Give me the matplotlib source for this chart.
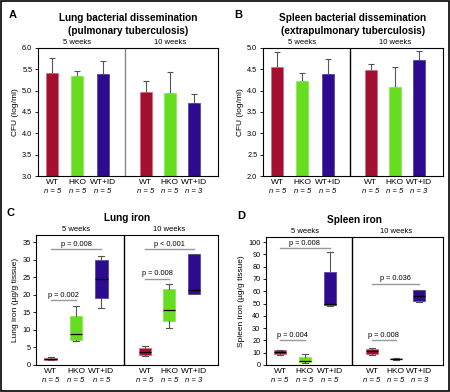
import matplotlib
matplotlib.use("Agg")
import matplotlib.pyplot as plt
import numpy as np

plt.rcParams['font.family'] = ['Liberation Sans', 'DejaVu Sans']

groups = ['WT', 'HKO', 'WT+ID', 'WT', 'HKO', 'WT+ID']
n_labels = ['n = 5', 'n = 5', 'n = 5', 'n = 5', 'n = 5', 'n = 3']
colors = ['#A3102F', '#66DD1E', '#2D0B8E'] * 2
edges = ['#D8707F', '#8CEB55', '#5A46B0'] * 2

# bar data (mean, length of upper error bar)
lung_cfu = [5.42, 5.35, 5.38, 4.97, 4.95, 4.72]
lung_cfu_err = [0.35, 0.11, 0.31, 0.25, 0.48, 0.19]
spleen_cfu = [4.55, 4.23, 4.38, 4.48, 4.08, 4.72]
spleen_cfu_err = [0.35, 0.17, 0.37, 0.15, 0.47, 0.20]

# box data: min, q1, median, q3, max
lung_iron = [(1.3, 1.5, 1.8, 2.1, 2.3), (6.8, 7.0, 8.8, 14.0, 16.9), (16.3, 19.0, 24.5, 29.8, 31.0),
             (2.5, 2.8, 3.7, 4.7, 5.5), (10.6, 12.4, 15.8, 21.6, 23.2), (20.3, 20.3, 21.5, 31.7, 31.7)]
spleen_iron = [(8, 9, 10.5, 12, 12.5), (1.5, 2.5, 3, 6.5, 9), (48, 49, 49.5, 76, 92),
               (8, 9, 11, 13, 13.5), (4, 4.5, 5, 5.5, 6), (51, 52, 56, 61, 61)]
# p-value brackets: (i, j, y, text)
lung_p = [(0, 1, 18.5, 'p = 0.002'), (0, 2, 33.0, 'p = 0.008'),
          (3, 4, 24.5, 'p = 0.008'), (3, 5, 33.0, 'p < 0.001')]
spleen_p = [(0, 1, 20, 'p = 0.004'), (0, 2, 95, 'p = 0.008'),
            (3, 4, 20, 'p = 0.008'), (3, 5, 66, 'p = 0.036')]

pos = np.array([0.6, 1.65, 2.7, 4.5, 5.5, 6.5])
divider = 3.65

fig = plt.figure(figsize=(4.5, 3.92), dpi=100)
fig.add_artist(plt.Rectangle((0.002, 0.002), 0.996, 0.996, transform=fig.transFigure,
                             fill=False, edgecolor='k', lw=1.2))


def common(ax, title, ylabel, letter, div_color):
    ax.set_xlim(0, 7.5)
    ax.axvline(divider, color=div_color, lw=1)
    ax.set_xticks(pos)
    ax.set_xticklabels(groups, fontsize=6)
    ax.tick_params(axis='x', length=0, pad=2)
    ax.tick_params(axis='y', labelsize=5.3, length=2.5, width=0.6, pad=1.5)
    for s in ax.spines.values():
        s.set_linewidth(0.8)
    for p, t in zip(pos, n_labels):
        ax.annotate(t, (p, 0), xycoords=('data', 'axes fraction'), xytext=(0, -8.8),
                    textcoords='offset points', ha='center', va='top', fontsize=5.5, style='italic')
    ax.text(pos[1], 1.015, '5 weeks', transform=ax.get_xaxis_transform(), ha='center', va='bottom', fontsize=5.5)
    ax.text(pos[4], 1.015, '10 weeks', transform=ax.get_xaxis_transform(), ha='center', va='bottom', fontsize=5.5)
    ax.set_ylabel(ylabel, fontsize=6, labelpad=2)
    ax.text(0.5, 1.095, title, transform=ax.transAxes, ha='center', va='bottom', fontsize=7.2,
            fontweight='bold', linespacing=1.3)
    ax.text(-0.16, 1.22 if '\n' in title else 1.13, letter, transform=ax.transAxes, fontsize=8,
            fontweight='bold', va='bottom')


def bar_panel(ax, vals, errs, ylim, title, letter, div_color):
    ax.bar(pos, vals, width=0.5, color=colors, edgecolor=edges, lw=0.6, zorder=2)
    ax.errorbar(pos, vals, yerr=[np.zeros(6), errs], fmt='none', ecolor='#555555',
                elinewidth=0.8, capsize=2.5, capthick=0.8, zorder=1)
    ax.set_ylim(*ylim)
    ticks = np.arange(ylim[0], ylim[1] + 0.01, 0.5)
    ax.set_yticks(ticks)
    ax.set_yticklabels(['%.1f' % v for v in ticks])
    common(ax, title, 'CFU (log/ml)', letter, div_color)


def box_panel(ax, data, brackets, ylim, ticks, title, ylabel, letter):
    stats = [dict(whislo=d[0], q1=d[1], med=d[2], q3=d[3], whishi=d[4], fliers=[]) for d in data]
    bp = ax.bxp(stats, positions=pos, widths=0.5, patch_artist=True, showfliers=False,
                medianprops=dict(color='k', lw=0.9),
                whiskerprops=dict(color='#555555', lw=0.8),
                capprops=dict(color='#555555', lw=0.8))
    for b, c, e in zip(bp['boxes'], colors, edges):
        b.set_facecolor(c)
        b.set_edgecolor(e)
        b.set_linewidth(0.6)
    for i, j, y, t in brackets:
        ax.plot([pos[i], pos[j]], [y, y], color='#999999', lw=1.0)
        ax.text((pos[i] + pos[j]) / 2, y + (ylim[1] * 0.012), t, ha='center', va='bottom', fontsize=5.3)
    ax.set_ylim(*ylim)
    ax.set_yticks(ticks)
    common(ax, title, ylabel, letter, 'k')


axA = fig.add_axes([0.084, 0.551, 0.40, 0.327])
bar_panel(axA, lung_cfu, lung_cfu_err, (3.0, 6.0),
          'Lung bacterial dissemination\n(pulmonary tuberculosis)', 'A', '#888888')
axB = fig.add_axes([0.584, 0.551, 0.40, 0.327])
bar_panel(axB, spleen_cfu, spleen_cfu_err, (2.0, 5.0),
          'Spleen bacterial dissemination\n(extrapulmonary tuberculosis)', 'B', 'k')
axC = fig.add_axes([0.080, 0.069, 0.404, 0.331])
box_panel(axC, lung_iron, lung_p, (0, 37), np.arange(0, 36, 5), 'Lung iron',
          'Lung iron (\u00b5g/g tissue)', 'C')
axD = fig.add_axes([0.591, 0.069, 0.393, 0.326])
box_panel(axD, spleen_iron, spleen_p, (0, 104), np.arange(0, 101, 10), 'Spleen iron',
          'Spleen iron (\u00b5g/g tissue)', 'D')

fig.savefig('out.png', dpi=100)
